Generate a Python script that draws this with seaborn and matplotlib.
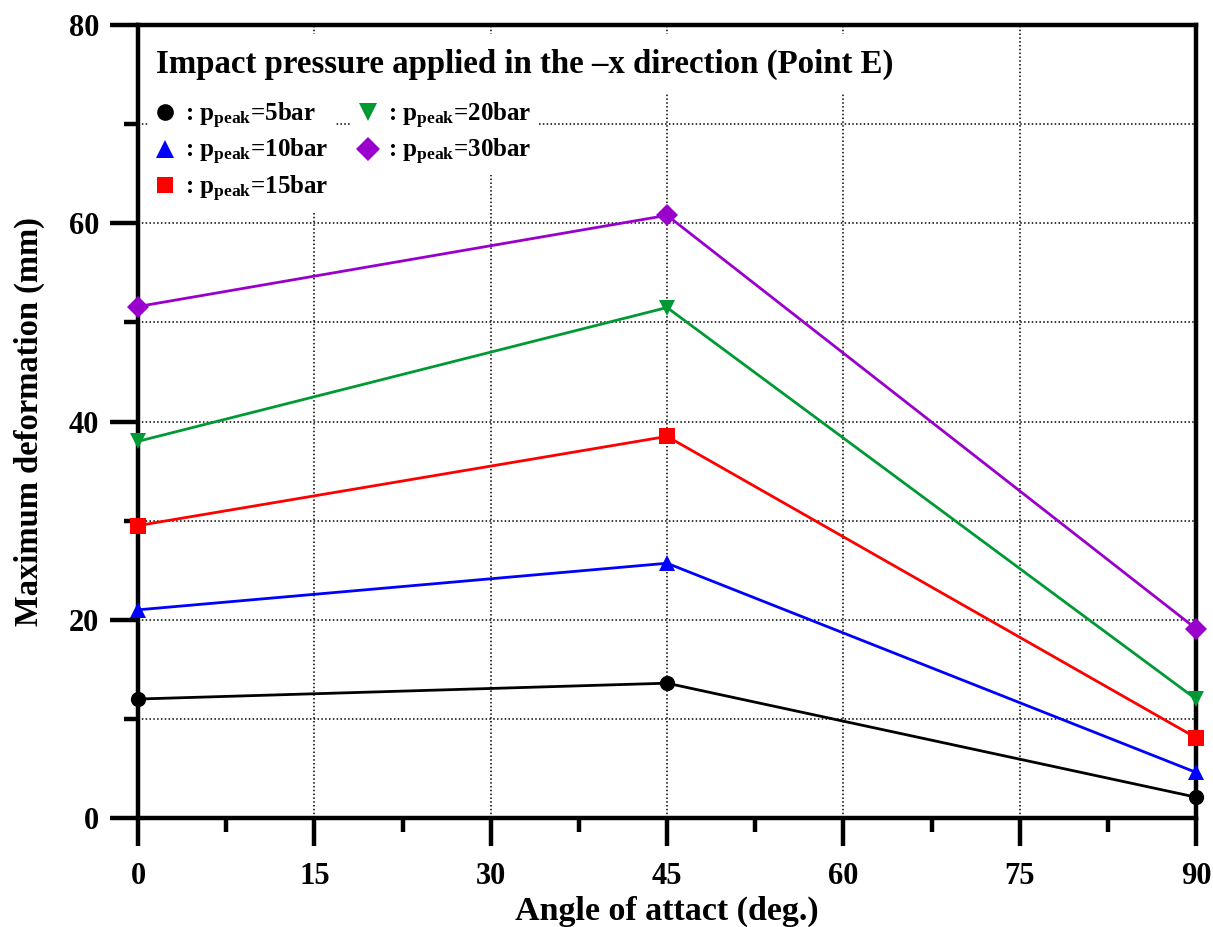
import matplotlib
matplotlib.use("Agg")
import matplotlib.pyplot as plt
from matplotlib.ticker import MultipleLocator
from matplotlib.lines import Line2D
import seaborn as sns
import pandas as pd

# Angle of attack (deg.) and maximum deformation (mm) per peak pressure
angles = [0, 45, 90]
p5 = [12.0, 13.6, 2.1]
p10 = [21.0, 25.7, 4.6]
p15 = [29.5, 38.5, 8.1]
p20 = [38.0, 51.5, 12.0]
p30 = [51.6, 60.8, 19.1]

series_names = ["5bar", "10bar", "15bar", "20bar", "30bar"]
series_values = [p5, p10, p15, p20, p30]
colors = ["#000000", "#0000ff", "#ff0000", "#009933", "#9900cc"]
markers = ["o", "^", "s", "v", "D"]
msizes = [11, 12, 11, 12, 11]

rows = []
for name, vals in zip(series_names, series_values):
    for a, v in zip(angles, vals):
        rows.append({"angle": a, "deformation": v, "pressure": name})
df = pd.DataFrame(rows)

sns.set_style("ticks")
plt.rcParams["font.family"] = ["Liberation Serif", "DejaVu Serif"]
plt.rcParams["font.weight"] = "bold"
plt.rcParams["text.color"] = "black"
plt.rcParams["axes.labelcolor"] = "black"
plt.rcParams["xtick.color"] = "black"
plt.rcParams["ytick.color"] = "black"
plt.rcParams["mathtext.fontset"] = "custom"
plt.rcParams["mathtext.rm"] = "Liberation Serif:bold"
plt.rcParams["mathtext.it"] = "Liberation Serif:bold"
plt.rcParams["mathtext.bf"] = "Liberation Serif:bold"

fig = plt.figure(figsize=(12.13, 9.27), dpi=100)
ax = fig.add_axes([0.1138, 0.1176, 0.8722, 0.8554])

for name, col, mk, ms in zip(series_names, colors, markers, msizes):
    sub = df[df["pressure"] == name]
    sns.lineplot(data=sub, x="angle", y="deformation", ax=ax, color=col,
                 marker=mk, markersize=ms, markeredgewidth=0, linewidth=2.0,
                 clip_on=False, zorder=5, legend=False)

ax.set_xlim(0, 90)
ax.set_ylim(0, 80)
ax.xaxis.set_major_locator(MultipleLocator(15))
ax.xaxis.set_minor_locator(MultipleLocator(7.5))
ax.yaxis.set_major_locator(MultipleLocator(20))
ax.yaxis.set_minor_locator(MultipleLocator(10))

ax.grid(which="major", axis="x", color="black", linestyle=(0, (1, 1.5)), linewidth=1.1, zorder=0)
ax.grid(which="both", axis="y", color="black", linestyle=(0, (1, 1.5)), linewidth=1.1, zorder=0)
ax.set_axisbelow(True)

for s in ax.spines.values():
    s.set_linewidth(3.2)
    s.set_color("black")

ax.tick_params(which="major", direction="out", length=20, width=3.2, labelsize=22)
ax.tick_params(which="minor", direction="out", length=10, width=3.2)
ax.tick_params(axis="y", which="major", pad=8)
ax.tick_params(axis="x", which="major", pad=12)

ax.set_xlabel("Angle of attact (deg.)", fontsize=24.5, fontweight="bold", labelpad=3)
ax.set_ylabel("Maximum deformation (mm)", fontsize=23.5, fontweight="bold", labelpad=17)

ax.text(0.017, 0.951, "Impact pressure applied in the \u2013x direction (Point E)",
        transform=ax.transAxes, fontsize=23.7, fontweight="bold", va="center", ha="left",
        zorder=6, bbox=dict(facecolor="white", edgecolor="none", pad=10))

handles = [Line2D([], [], linestyle="none", marker=mk, color=col, markersize=ms + 1,
                  markeredgewidth=0) for col, mk, ms in zip(colors, markers, msizes)]
labels = [r": p$_{\mathrm{peak}}$=" + n for n in series_names]

leg_kw = dict(frameon=True, facecolor="white", edgecolor="none", framealpha=1,
              fancybox=False, fontsize=18, handlelength=0.8, handletextpad=0.4,
              labelspacing=0.25, borderpad=0.3, borderaxespad=0)
leg1 = ax.legend(handles[:3], labels[:3], loc="upper left",
                 bbox_to_anchor=(0.009, 0.914), **leg_kw)
leg1.set_zorder(6)
ax.add_artist(leg1)
leg2 = ax.legend(handles[3:], labels[3:], loc="upper left",
                 bbox_to_anchor=(0.201, 0.914), **leg_kw)
leg2.set_zorder(6)

fig.savefig("out.png", dpi=100)
